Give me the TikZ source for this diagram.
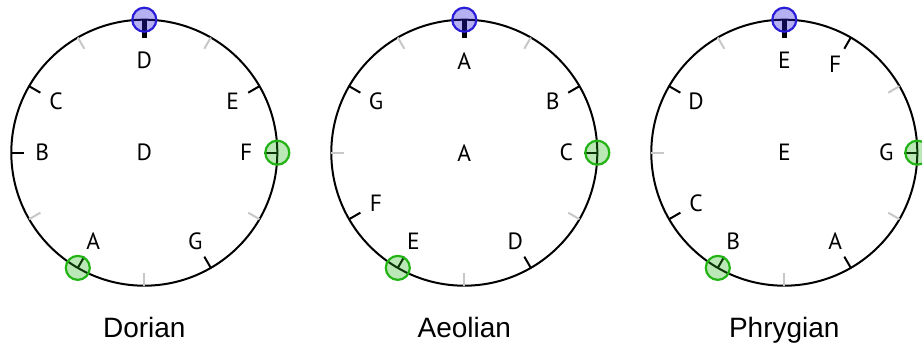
\documentclass[tikz,border=0pt]{standalone}
\usepackage{fontspec}
\setmainfont{Liberation Sans}
\newfontfamily\labfont{PT Sans}
\usetikzlibrary{calc}
\definecolor{tonicblue}{RGB}{43,30,217}
\definecolor{markgreen}{RGB}{34,180,20}
\definecolor{tickgray}{RGB}{200,200,200}
\tikzset{
  wheel/.style={circle, draw=black, line width=2pt, minimum size=266pt, inner sep=0pt, outer sep=0pt},
  majortick/.style={line width=2pt, draw=black},
  minortick/.style={line width=2pt, draw=tickgray},
  tonictick/.style={line width=4.5pt, draw=black},
  notelabel/.style={font=\labfont\fontsize{23.5}{24}\selectfont, inner sep=0pt},
  tonicmark/.style={circle, draw=tonicblue, fill=tonicblue, fill opacity=0.35, draw opacity=1, line width=2.2pt, minimum size=24pt, inner sep=0pt},
  greenmark/.style={circle, draw=markgreen, fill=markgreen, fill opacity=0.3, draw opacity=1, line width=2.2pt, minimum size=24pt, inner sep=0pt},
  modename/.style={font=\fontsize{28}{28}\selectfont, anchor=base, inner sep=0pt}
}
% #1 name, #2 x centre, #3 tonic, #4 notes (pos/label), #5 gray positions, #6 mode name
\newcommand\modewheel[6]{%
  \coordinate (#1) at (#2pt,192.3pt);
  \node[wheel] (#1ring) at (#1) {};
  \foreach \k in {#5}{
    \draw[minortick] ($(#1)+({90-30*\k}:133pt)$) -- ($(#1)+({90-30*\k}:120pt)$);
  }
  \foreach \k/\n in {#4}{
    \draw[majortick] ($(#1)+({90-30*\k}:133pt)$) -- ($(#1)+({90-30*\k}:120pt)$);
    \node[notelabel] (#1note\k) at ($(#1)+({90-30*\k}:102pt)$) {\n};
  }
  \draw[tonictick] ($(#1)+(90:133pt)$) -- ($(#1)+(90:115pt)$);
  \node[notelabel] (#1note0) at ($(#1)+(90:92pt)$) {#3};
  \node[notelabel] (#1centre) at (#1) {#3};
  \node[tonicmark] (#1tonic) at ($(#1)+(90:133pt)$) {};
  \node[greenmark] (#1third) at ($(#1)+(0:133pt)$) {};
  \node[greenmark] (#1fifth) at ($(#1)+(-120:133pt)$) {};
  \node[modename] (#1name) at (#2pt,7pt) {#6};
}
\begin{document}
\begin{tikzpicture}
  \path[use as bounding box, clip] (0,0) rectangle (922pt,345pt);
  \fill[white] (0,0) rectangle (922pt,345pt);
  \modewheel{dor}{144.3}{D}{2/E,3/F,5/G,7/A,9/B,10/C}{1,4,6,8,11}{Dorian}
  \modewheel{aeo}{464.3}{A}{2/B,3/C,5/D,7/E,8/F,10/G}{1,4,6,9,11}{Aeolian}
  \modewheel{phr}{784.3}{E}{1/F,3/G,5/A,7/B,8/C,10/D}{2,4,6,9,11}{Phrygian}
\end{tikzpicture}
\end{document}
